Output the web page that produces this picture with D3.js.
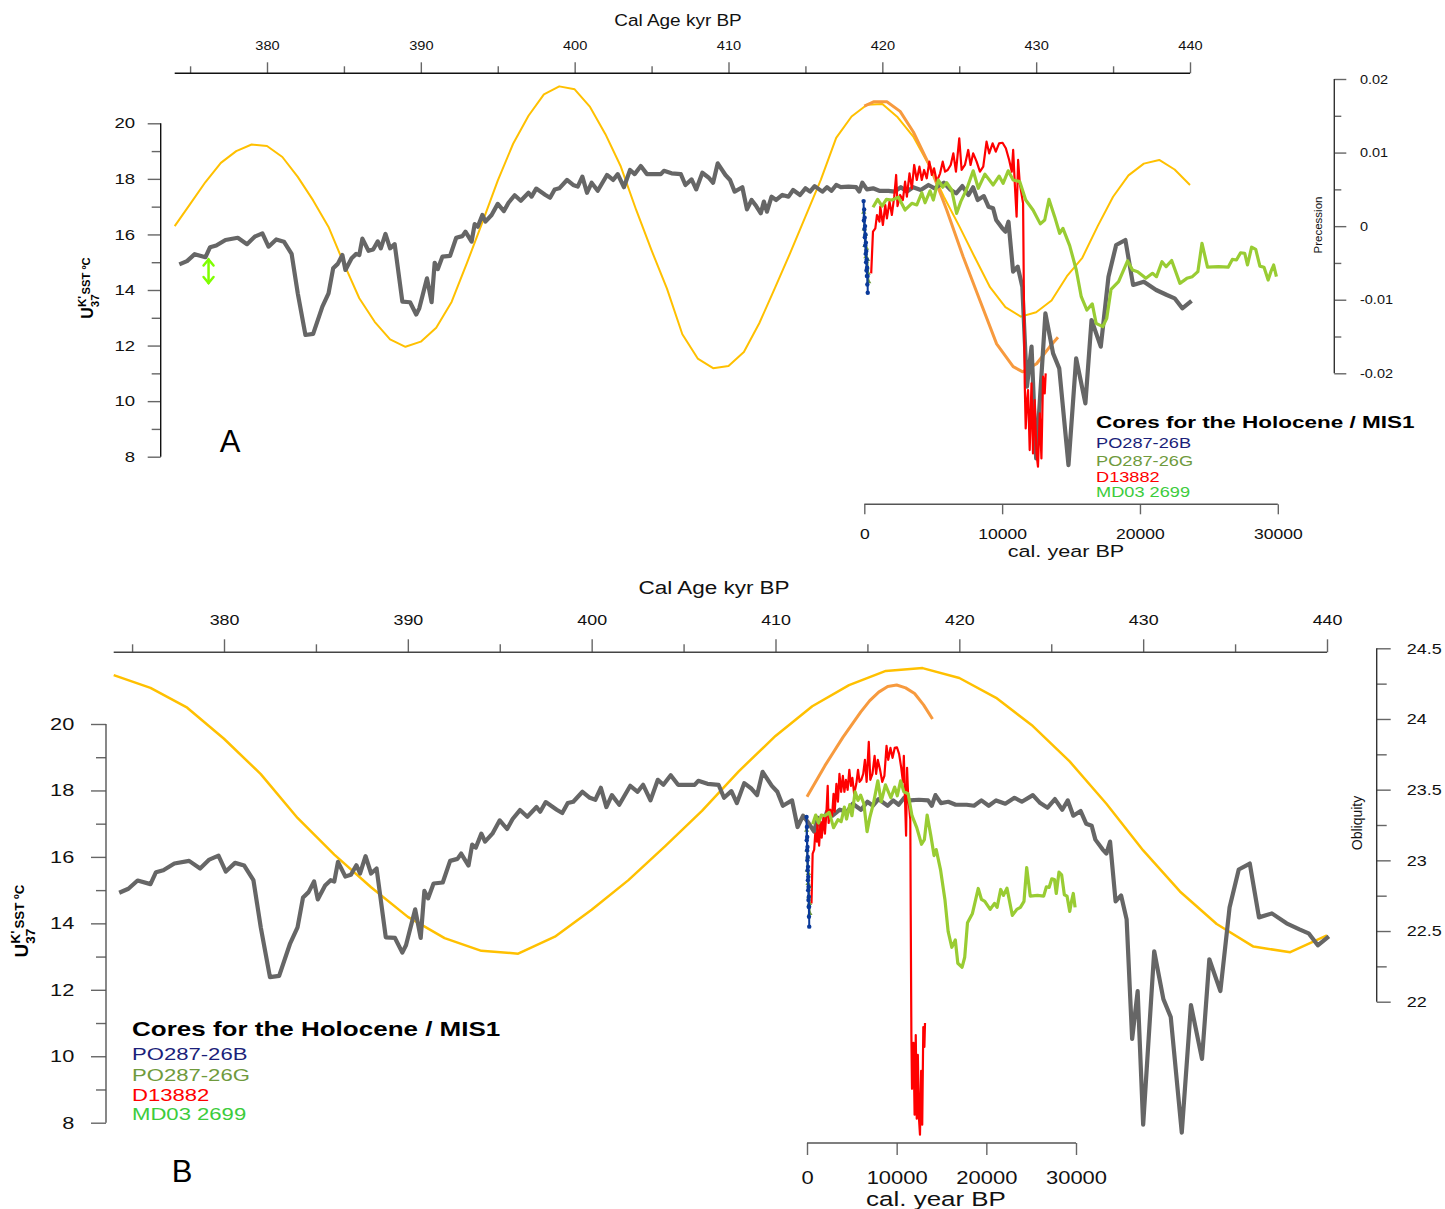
<!DOCTYPE html>
<html>
<head>
<meta charset="utf-8">
<script src="https://cdn.jsdelivr.net/npm/d3@7"></script>
<style>
  body { margin: 0; background: #fff; }
  text { font-family: "Liberation Sans", Arial, sans-serif; }
</style>
</head>
<body>
<script>
const width = 1445;
const height = 1209;

// MIS 11 alkenone SST record: [cal age kyr BP, SST ºC]
const mis11Sst = [
  [374.3,14.92],[374.8,15.04],[375.3,15.29],[376.0,15.18],[376.3,15.54],[376.7,15.60],[377.3,15.80],
  [378.1,15.88],[378.7,15.65],[379.2,15.92],[379.7,16.04],[380.1,15.56],[380.6,15.82],[381.1,15.74],
  [381.6,15.30],[382.0,13.88],[382.5,12.38],[383.0,12.42],[383.6,13.40],[384.0,13.88],[384.3,14.78],
  [384.6,14.94],[384.9,15.26],[385.1,14.72],[385.5,15.14],[385.8,15.30],[386.0,15.26],[386.2,15.85],
  [386.6,15.41],[386.9,15.46],[387.2,15.75],[387.4,15.50],[387.7,16.02],[388.0,15.50],[388.3,15.65],
  [388.8,13.58],[389.3,13.56],[389.7,13.12],[389.9,13.34],[390.4,14.42],[390.7,13.56],[390.9,14.98],
  [391.1,14.75],[391.4,15.20],[391.9,15.23],[392.3,15.88],[392.7,15.94],[392.9,16.10],[393.3,15.74],
  [393.5,16.37],[393.7,16.28],[394.0,16.70],[394.2,16.46],[394.6,16.70],[395.0,17.10],[395.4,16.84],
  [395.7,17.14],[396.1,17.41],[396.5,17.21],[397.0,17.50],[397.2,17.36],[397.5,17.65],[398.1,17.42],
  [398.4,17.32],[398.7,17.62],[399.0,17.66],[399.5,17.96],[399.9,17.78],[400.2,17.72],[400.5,18.08],
  [400.8,17.50],[401.1,17.86],[401.5,17.57],[402.1,18.14],[402.5,17.96],[402.8,18.17],[403.2,17.70],
  [403.6,18.32],[403.9,18.17],[404.3,18.46],[404.7,18.17],[405.6,18.17],[405.8,18.29],[406.3,18.20],
  [406.9,18.17],[407.2,17.78],[407.6,17.98],[407.9,17.62],[408.3,18.22],[408.7,18.05],[409.0,17.86],
  [409.3,18.56],[409.8,18.14],[410.1,17.96],[410.4,17.54],[410.9,17.70],[411.2,16.90],[411.5,17.24],
  [411.8,17.02],[412.1,16.76],[412.3,17.18],[412.5,16.82],[412.8,17.36],[413.1,17.24],[413.5,17.42],
  [413.9,17.36],[414.2,17.60],[414.65,17.42],[415.0,17.66],[415.3,17.54],[415.6,17.74],[416.1,17.54],
  [416.4,17.70],[416.7,17.57],[417.0,17.78],[417.3,17.70],[417.8,17.72],[418.3,17.70],[418.5,17.54],
  [418.7,17.86],[419.0,17.62],[419.4,17.66],[419.8,17.57],[420.4,17.57],[420.8,17.54],[421.2,17.70],
  [421.6,17.54],[422.0,17.70],[422.5,17.60],[423.0,17.78],[423.4,17.66],[424.0,17.86],[424.4,17.62],
  [424.8,17.48],[425.2,17.74],[425.6,17.42],[425.9,17.70],[426.2,17.24],[426.6,17.38],[426.9,17.00],
  [427.2,16.94],[427.4,16.52],[427.8,16.22],[428.0,16.10],[428.2,16.46],[428.5,14.66],[428.8,14.84],
  [429.1,14.12],[429.3,11.72],[429.4,10.52],[429.7,11.96],[430.0,7.94],[430.6,13.16],[431.1,11.72],
  [431.5,11.18],[432.1,7.70],[432.6,11.54],[433.2,9.92],[433.6,12.92],[434.2,11.96],[434.7,14.48],
  [435.2,15.62],[435.8,15.80],[436.3,14.18],[437.0,14.30],[437.8,14.00],[438.5,13.82],[439.0,13.70],
  [439.5,13.34],[440.1,13.61]
];

// orbital parameters over MIS 11: [kyr BP, value]
const precessionMis11 = [
  [374,0.0000],[375,0.0030],[376,0.0060],[377,0.0086],[378,0.0102],[379,0.0111],[380,0.0109],
  [381,0.0094],[382,0.0067],[383,0.0035],[384,-0.0001],[385,-0.0051],[386,-0.0098],[387,-0.0130],
  [388,-0.0154],[389,-0.0164],[390,-0.0157],[391,-0.0138],[392,-0.0103],[393,-0.0050],[394,0.0005],
  [395,0.0062],[396,0.0112],[397,0.0150],[398,0.0179],[399,0.0190],[400,0.0186],[401,0.0162],
  [402,0.0125],[403,0.0081],[404,0.0022],[405,-0.0033],[406,-0.0085],[407,-0.0147],[408,-0.0180],
  [409,-0.0193],[410,-0.0190],[411,-0.0171],[412,-0.0132],[413,-0.0085],[414,-0.0037],[415,0.0013],
  [416,0.0063],[417,0.0120],[418,0.0149],[419,0.0165],[420,0.0166],[421,0.0148],[422,0.0122],
  [423,0.0084],[424,0.0040],[425,0.0000],[426,-0.0042],[427,-0.0083],[428,-0.0110],[429,-0.0123],
  [430,-0.0117],[431,-0.0101],[432,-0.0068],[433,-0.0043],[434,0.0000],[435,0.0040],[436,0.0069],
  [437,0.0085],[438,0.0090],[439,0.0077],[440,0.0056]
];
const obliquityMis11 = [
  [374,24.31],[376,24.22],[378,24.08],[380,23.86],[382,23.61],[384,23.30],[386,23.04],[388,22.81],
  [390,22.60],[392,22.45],[394,22.36],[396,22.34],[398,22.46],[400,22.65],[402,22.86],[404,23.10],
  [406,23.35],[408,23.63],[410,23.88],[412,24.09],[414,24.24],[416,24.34],[418,24.36],[420,24.29],
  [422,24.15],[424,23.95],[426,23.70],[428,23.40],[430,23.07],[432,22.78],[434,22.55],[436,22.39],
  [438,22.35],[440,22.47]
];

// orbital parameters over the Holocene: [cal year BP, value]
const precessionHolo = [
  [0,0.0163],[670,0.0169],[1640,0.0169],[2600,0.0156],[3560,0.0128],[4770,0.0081],[5980,0.0022],
  [7180,-0.0042],[8390,-0.0101],[9600,-0.0160],[10800,-0.0191],[11500,-0.0198],[12500,-0.0187],
  [13450,-0.0164],[14050,-0.0151]
];
const obliquityHolo = [
  [0,23.45],[1000,23.56],[2000,23.67],[3000,23.77],[4000,23.87],[5000,23.96],[6000,24.05],[7000,24.13],
  [8000,24.19],[9000,24.23],[10000,24.24],[11000,24.22],[12000,24.18],[13000,24.10],[14000,24.00]
];

// Holocene / MIS1 cores: [cal year BP, SST ºC]
const corePO26B = [
  [-50,17.2],[-30,16.5],[-10,16.9],[10,16.2],[25,16.6],[40,15.9],[55,16.3],[70,15.6],[85,16.0],
  [100,15.3],[115,15.7],[130,15.0],[145,15.4],[160,14.7],[175,15.1],[190,14.5],[205,14.8],[220,14.2],
  [235,14.5],[250,13.9]
];
const corePO26G = [
  [-40,16.8],[0,16.2],[40,15.6],[80,16.0],[120,15.2],[160,15.5],[200,14.8],[240,15.1],[280,14.6],[320,14.3]
];
const coreD13882 = [
  [500,14.60],[630,16.10],[800,16.22],[920,16.70],[1100,16.46],[1160,17.00],[1350,16.34],[1520,17.06],
  [1640,16.58],[1830,17.18],[2000,16.70],[2170,17.36],[2310,18.14],[2410,17.02],[2600,17.42],[2800,17.24],
  [2960,17.90],[3090,17.36],[3280,18.20],[3450,17.66],[3620,18.50],[3810,17.96],[4000,18.44],[4170,17.96],
  [4340,18.32],[4530,18.02],[4720,18.62],[4900,18.14],[5060,18.38],[5260,17.90],[5500,18.20],[5690,18.62],
  [5860,18.26],[6050,18.32],[6270,18.50],[6460,18.92],[6650,18.26],[6890,19.46],[7060,18.32],[7300,18.50],
  [7540,19.04],[7710,18.50],[7900,18.92],[8150,18.62],[8390,18.26],[8630,18.44],[8870,19.34],[9060,18.92],
  [9310,19.28],[9540,18.98],[9780,19.28],[10030,19.30],[10270,19.10],[10510,18.68],[10700,18.26],
  [10800,19.04],[10930,17.72],[11050,16.64],[11160,18.68],[11280,17.84],[11400,17.48],[11520,17.12],
  [11570,14.24],[11640,10.64],[11710,9.02],[11810,10.04],[11880,10.40],[12000,8.24],[12130,10.64],
  [12240,8.12],[12360,10.04],[12490,8.12],[12600,7.64],[12730,9.56],[12850,7.94],[12970,10.88],
  [13090,10.28],[13160,11.00]
];
const coreMD032699 = [
  [630,16.98],[970,17.26],[1290,17.02],[1600,17.26],[2000,17.24],[2480,17.34],[2960,16.88],[3450,17.12],
  [3810,17.06],[4170,17.50],[4410,17.14],[4770,17.57],[5010,17.24],[5370,17.96],[5690,17.70],[5980,17.86],
  [6340,17.60],[6700,16.76],[7000,17.18],[7420,17.62],[7900,18.29],[8270,17.66],[8750,18.17],[9350,17.78],
  [9780,18.10],[10070,17.84],[10440,18.29],[10800,17.96],[11280,17.90],[11710,17.24],[12240,16.88],
  [12770,16.38],[13090,16.52],[13400,17.26],[13810,16.64],[14170,16.04],[14410,16.22],[14900,15.60],
  [15380,14.72],[15740,13.76],[16150,13.28],[16540,13.50],[16820,12.80],[17300,12.68],[17590,12.98],
  [17900,14.02],[18450,14.30],[19100,15.05],[19460,14.72],[19830,14.66],[20430,14.42],[20910,14.60],
  [21200,14.48],[21600,15.02],[21900,14.84],[22300,15.06],[22900,14.24],[23400,14.42],[23800,14.48],
  [24200,14.66],[24500,15.68],[24900,14.82],[25700,14.84],[26400,14.82],[26700,15.10],[27000,15.08],
  [27300,15.34],[27600,15.32],[27800,14.90],[28100,15.54],[28400,15.46],[28700,14.86],[29000,14.82],
  [29300,14.36],[29500,14.66],[29700,14.90],[29900,14.48]
];

// SST error bar shown in panel A: [kyr, low, high]
const sstErrorBar = [376.2, 14.25, 15.1];

// ticks and labels
const calAgeTicks = [380, 390, 400, 410, 420, 430, 440];
const calAgeMinor = [375, 385, 395, 405, 415, 425, 435];
const holoTicks = [0, 10000, 20000, 30000];
const sstTicks = [8, 10, 12, 14, 16, 18, 20];
const sstMinor = [9, 11, 13, 15, 17, 19];
const precTicks = [-0.02, -0.01, 0, 0.01, 0.02];
const precMinor = [-0.015, -0.005, 0.005, 0.015];
const obliqTicks = [22, 22.5, 23, 23.5, 24, 24.5];
const obliqMinor = [22.25, 22.75, 23.25, 23.75, 24.25];
const legendTitle = "Cores for the Holocene / MIS1";
const legendNames = ["PO287-26B", "PO287-26G", "D13882", "MD03 2699"];
const legendColors = ["#1b1f7a", "#6f9a3c", "#ff0000", "#3ccc3c"];

const svg = d3.select("body").append("svg")
  .attr("width", width)
  .attr("height", height);

// texto ensanchado horizontalmente (la figura original está estirada)
function label(x, y, txt, fs, sx, anchor) {
  return svg.append("text")
    .attr("transform", `translate(${x},${y}) scale(${sx},1)`)
    .attr("text-anchor", anchor || "middle")
    .attr("font-size", fs)
    .attr("fill", "#111")
    .text(txt);
}

// dibuja un eje con marcas mayores y menores
function drawAxis(gen, scale, o) {
  const horiz = (gen === d3.axisTop || gen === d3.axisBottom);
  const g = svg.append("g")
    .attr("transform", horiz ? `translate(0,${o.pos})` : `translate(${o.pos},0)`);
  g.append("g").call(gen(scale).tickValues(o.minor || []).tickSize(o.minorLen).tickFormat(""));
  g.append("g").call(gen(scale).tickValues(o.major).tickSize(o.majorLen)
    .tickPadding(o.pad).tickFormat(o.fmt || (d => d)));
  g.selectAll(".domain").remove();
  const a = scale(o.from), b = scale(o.to);
  g.append("line")
    .attr("x1", horiz ? a : 0).attr("x2", horiz ? b : 0)
    .attr("y1", horiz ? 0 : a).attr("y2", horiz ? 0 : b)
    .attr("stroke", o.lineColor || "#222").attr("stroke-width", 1.4);
  g.selectAll(".tick line").attr("stroke", "#666").attr("stroke-width", 1.4);
  g.selectAll(".tick text").each(function() {
    const t = d3.select(this);
    const x = +t.attr("x") || 0;
    t.attr("x", x / o.sx)
      .attr("transform", `scale(${o.sx},1)`)
      .attr("font-size", o.fs)
      .attr("fill", "#111");
  });
}

function yLabel(x, y, fs) {
  const t = svg.append("text")
    .attr("transform", `translate(${x},${y}) rotate(-90)`)
    .attr("text-anchor", "middle")
    .attr("font-weight", "bold")
    .attr("font-size", fs);
  t.append("tspan").text("U");
  t.append("tspan").attr("font-size", fs * 0.72).attr("dy", -fs * 0.42).text("K'");
  t.append("tspan").attr("font-size", fs * 0.72).attr("dx", -fs * 0.7).attr("dy", fs * 0.8).text("37");
  t.append("tspan").attr("font-size", fs * 0.7).attr("dy", -fs * 0.58).text("SST ºC");
}

function plotLine(data, x, y, color, w) {
  svg.append("path")
    .datum(data)
    .attr("fill", "none")
    .attr("stroke", color)
    .attr("stroke-width", w)
    .attr("stroke-linejoin", "round")
    .attr("d", d3.line().x(d => x(d[0])).y(d => y(d[1])));
}

function drawPanel(p) {
  const xTop = d3.scaleLinear().domain([380, 440]).range(p.xTopRange);
  const ySst = d3.scaleLinear().domain([8, 20]).range(p.ySstRange);
  const yOrb = d3.scaleLinear().domain(p.orbDomain).range(p.yOrbRange);
  const xHolo = d3.scaleLinear().domain([0, 30000]).range(p.xHoloRange);

  // ejes
  drawAxis(d3.axisTop, xTop, { pos: p.topY, major: calAgeTicks, minor: calAgeMinor,
    majorLen: p.topMajor, minorLen: p.topMinor, pad: p.topPad, fs: p.topFs, sx: p.topSx,
    from: 374, to: 440, lineColor: p.topLine });
  drawAxis(d3.axisLeft, ySst, { pos: p.leftX, major: sstTicks, minor: sstMinor,
    majorLen: p.leftMajor, minorLen: p.leftMinor, pad: p.leftPad, fs: p.leftFs, sx: p.leftSx,
    from: 8, to: 20, lineColor: p.leftLine });
  drawAxis(d3.axisRight, yOrb, { pos: p.rightX, major: p.orbTicks, minor: p.orbMinor,
    majorLen: p.rightMajor, minorLen: p.rightMinor, pad: p.rightPad, fs: p.rightFs, sx: p.rightSx,
    from: p.orbDomain[0], to: p.orbDomain[1], fmt: d => String(d), lineColor: "#333" });
  drawAxis(d3.axisBottom, xHolo, { pos: p.bottomY, major: holoTicks, minor: [],
    majorLen: p.bottomTick, minorLen: 0, pad: p.bottomPad, fs: p.bottomFs, sx: p.bottomSx,
    from: 0, to: 30000, lineColor: "#555" });

  label(p.topTitle[0], p.topTitle[1], "Cal Age kyr BP", p.topTitleFs, p.topTitleSx);
  label(p.holoTitle[0], p.holoTitle[1], "cal. year BP", p.holoTitleFs, p.holoTitleSx);
  svg.append("text")
    .attr("transform", `translate(${p.orbLabel[0]},${p.orbLabel[1]}) rotate(-90)`)
    .attr("text-anchor", "middle").attr("font-size", p.orbLabelFs).attr("fill", "#111")
    .text(p.orbName);
  yLabel(p.yLabel[0], p.yLabel[1], p.yLabelFs);
  svg.append("text").attr("x", p.panelLabel[0]).attr("y", p.panelLabel[1])
    .attr("text-anchor", "middle").attr("font-size", 31).attr("fill", "#000")
    .text(p.name);

  // curvas
  plotLine(p.orbMis11, xTop, yOrb, "#ffc000", p.yellowW);
  plotLine(p.orbHolo, xHolo, yOrb, "#f79a3e", 3);
  plotLine(mis11Sst, xTop, ySst, "#666666", 4.2);
  plotLine(coreD13882, xHolo, ySst, "#ff0000", 2.2);
  plotLine(coreMD032699, xHolo, ySst, "#99cc33", 3.2);

  plotLine(corePO26G, xHolo, ySst, "#6f9a3c", 1.5);
  svg.append("g").selectAll("path")
    .data(corePO26G).enter().append("path")
    .attr("transform", d => `translate(${xHolo(d[0])},${ySst(d[1])})`)
    .attr("d", d3.symbol(d3.symbolTriangle, 12))
    .attr("fill", "#6f9a3c");
  plotLine(corePO26B, xHolo, ySst, "#0a3a9a", 2);
  svg.append("g").selectAll("circle")
    .data(corePO26B).enter().append("circle")
    .attr("cx", d => xHolo(d[0])).attr("cy", d => ySst(d[1]))
    .attr("r", 2.2).attr("fill", "#0a3a9a");

  if (p.errorBar) {
    const ex = xTop(sstErrorBar[0]), y1 = ySst(sstErrorBar[1]), y2 = ySst(sstErrorBar[2]);
    const eb = svg.append("g").attr("stroke", "#7fff00").attr("stroke-width", 2.5)
      .attr("fill", "none").attr("stroke-linecap", "round");
    eb.append("line").attr("x1", ex).attr("x2", ex).attr("y1", y1).attr("y2", y2);
    eb.append("path").attr("d", `M${ex - 5},${y2 + 6}L${ex},${y2}L${ex + 5},${y2 + 6}`);
    eb.append("path").attr("d", `M${ex - 5},${y1 - 6}L${ex},${y1}L${ex + 5},${y1 - 6}`);
  }

  // leyenda
  const lg = svg.append("g")
    .attr("transform", `translate(${p.legend[0]},${p.legend[1]}) scale(${p.legendSx},1)`);
  lg.append("text").attr("font-size", p.legendTitleFs).attr("font-weight", "bold")
    .attr("fill", "#000").text(legendTitle);
  lg.selectAll("text.item").data(legendNames).enter().append("text")
    .attr("class", "item")
    .attr("y", (d, i) => p.legendRows[i])
    .attr("font-size", p.legendFs)
    .attr("fill", (d, i) => legendColors[i])
    .text(d => d);
}

// Panel A: SST vs precession
drawPanel({
  name: "A",
  xTopRange: [267, 1190], ySstRange: [456.7, 123.3],
  orbDomain: [-0.02, 0.02], yOrbRange: [373.3, 79], xHoloRange: [864.3, 1277.8],
  orbTicks: precTicks, orbMinor: precMinor, orbMis11: precessionMis11, orbHolo: precessionHolo,
  orbName: "Precession",
  topY: 73.3, topMajor: 11, topMinor: 7, topPad: 12.3, topFs: 13.5, topSx: 1.08, topLine: "#111",
  leftX: 160.7, leftMajor: 13, leftMinor: 9, leftPad: 12.7, leftFs: 14.5, leftSx: 1.28, leftLine: "#111",
  rightX: 1334.3, rightMajor: 12, rightMinor: 7, rightPad: 13.7, rightFs: 12.5, rightSx: 1.16,
  bottomY: 504.3, bottomTick: 10, bottomPad: 14, bottomFs: 14.5, bottomSx: 1.21,
  topTitle: [678, 25.5], topTitleFs: 16.5, topTitleSx: 1.15,
  holoTitle: [1066, 557], holoTitleFs: 16.5, holoTitleSx: 1.31,
  orbLabel: [1322, 225], orbLabelFs: 11.5,
  yLabel: [93, 288], yLabelFs: 16,
  panelLabel: [230, 452],
  yellowW: 2,
  errorBar: true,
  legend: [1096, 427.5], legendSx: 1.3, legendTitleFs: 17.3, legendFs: 14, legendRows: [21, 38.5, 55, 70]
});

// Panel B: SST vs obliquity
drawPanel({
  name: "B",
  xTopRange: [224, 1327], ySstRange: [1122.7, 724],
  orbDomain: [22, 24.5], yOrbRange: [1001.7, 648.3], xHoloRange: [807, 1076],
  orbTicks: obliqTicks, orbMinor: obliqMinor, orbMis11: obliquityMis11, orbHolo: obliquityHolo,
  orbName: "Obliquity",
  topY: 652.3, topMajor: 13, topMinor: 8, topPad: 14.3, topFs: 15, topSx: 1.19, topLine: "#444",
  leftX: 106, leftMajor: 15, leftMinor: 10, leftPad: 16.7, leftFs: 17, leftSx: 1.28, leftLine: "#555",
  rightX: 1376.7, rightMajor: 14, rightMinor: 10, rightPad: 16, rightFs: 15, rightSx: 1.2,
  bottomY: 1143, bottomTick: 12, bottomPad: 16.7, bottomFs: 18, bottomSx: 1.22,
  topTitle: [714, 594], topTitleFs: 18, topTitleSx: 1.25,
  holoTitle: [936, 1206], holoTitleFs: 19.5, holoTitleSx: 1.33,
  orbLabel: [1362, 823], orbLabelFs: 14,
  yLabel: [28, 921], yLabelFs: 19,
  panelLabel: [182, 1182],
  yellowW: 2.5,
  errorBar: false,
  legend: [132, 1036], legendSx: 1.3, legendTitleFs: 20, legendFs: 17, legendRows: [24, 45, 65, 84]
});
</script>
</body>
</html>
